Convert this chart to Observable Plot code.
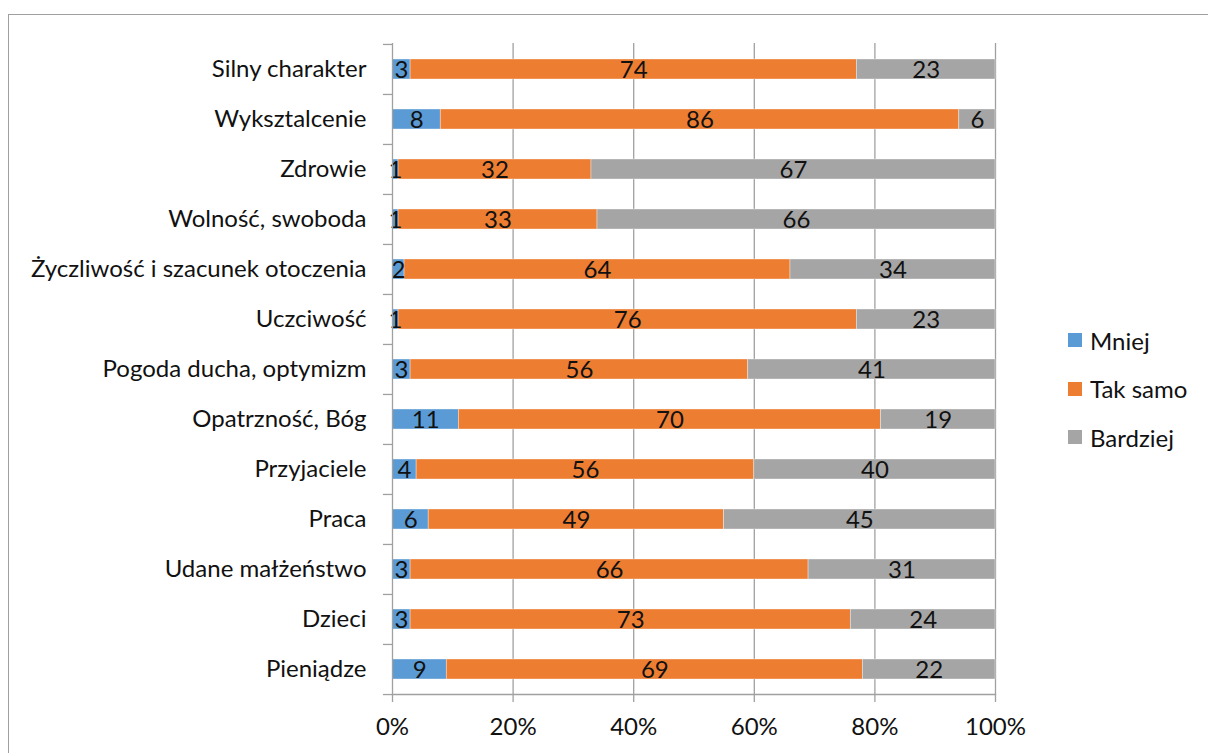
<!DOCTYPE html>
<html>
<head>
<meta charset="utf-8">
<script src="https://cdn.jsdelivr.net/npm/d3@7"></script>
<script src="https://cdn.jsdelivr.net/npm/@observablehq/plot@0.6"></script>
<style>
  html, body { margin: 0; padding: 0; background: #fff; }
  body { width: 1208px; height: 753px; position: relative; overflow: hidden; font-family: Lato, "Open Sans", sans-serif; }
  #border { position: absolute; left: 8px; top: 14px; width: 1300px; height: 900px; border: 1.5px solid #a0a0a0; box-sizing: border-box; }
  #chart { position: absolute; left: 0; top: 0; }
  #legend { position: absolute; left: 1068px; top: 316px; font-size: 24px; color: #111; }
  .li { display: flex; align-items: center; height: 48.5px; }
  .sw { width: 14px; height: 14px; margin-right: 8px; }
</style>
</head>
<body>
<div id="border"></div>
<div id="chart"></div>
<div id="legend"></div>
<script>
const categories = [
  "Silny charakter", "Wyksztalcenie", "Zdrowie", "Wolność, swoboda",
  "Życzliwość i szacunek otoczenia", "Uczciwość", "Pogoda ducha, optymizm",
  "Opatrzność, Bóg", "Przyjaciele", "Praca", "Udane małżeństwo", "Dzieci", "Pieniądze"
];
const series = ["Mniej", "Tak samo", "Bardziej"];
const colors = ["#5B9BD5", "#ED7D31", "#A5A5A5"];
const mniej    = [3, 8, 1, 1, 2, 1, 3, 11, 4, 6, 3, 3, 9];
const takSamo  = [74, 86, 32, 33, 64, 76, 56, 70, 56, 49, 66, 73, 69];
const bardziej = [23, 6, 67, 66, 34, 23, 41, 19, 40, 45, 31, 24, 22];
const xTicks = [0, 20, 40, 60, 80, 100];

const seriesValues = [mniej, takSamo, bardziej];
const data = [];
categories.forEach((c, i) => {
  series.forEach((s, j) => data.push({category: c, series: s, value: seriesValues[j][i]}));
});

const W = 1208, H = 753, mT = 43, mB = 59, mL = 392, mR = 213;
const step = (H - mT - mB) / categories.length;
const FS = 24;

const plot = Plot.plot({
  width: W, height: H,
  marginTop: mT, marginBottom: mB, marginLeft: mL, marginRight: mR,
  style: {fontFamily: "Lato, 'Open Sans', sans-serif", fontSize: FS + "px", color: "#111", background: "transparent"},
  x: {domain: [0, 100]},
  y: {domain: categories, paddingInner: 0.6, paddingOuter: 0.3},
  color: {domain: series, range: colors},
  marks: [
    Plot.ruleX(xTicks.slice(1), {stroke: "#a0a0a0", strokeWidth: 1.3, strokeOpacity: 1}),
    Plot.barX(data, Plot.stackX({
      x: "value", y: "category", fill: "series", order: series,
      stroke: "white", strokeWidth: 0.6, strokeOpacity: 0.6
    })),
    Plot.text(data, Plot.stackX({
      x: "value", y: "category", z: "series", order: series,
      text: d => String(d.value), fill: "#111", fontSize: FS, dy: 1
    })),
    Plot.ruleX([0], {stroke: "#a0a0a0", strokeWidth: 1.3}),
    Plot.frame({anchor: "bottom", stroke: "#a0a0a0", strokeWidth: 1.3}),
    Plot.ruleY(categories, {y: d => d, x1: -1.5, x2: 0, dy: -step / 2, stroke: "#a0a0a0", strokeWidth: 1.3}),
    Plot.ruleY(categories.slice(-1), {y: d => d, x1: -1.5, x2: 0, dy: step / 2, stroke: "#a0a0a0", strokeWidth: 1.3}),
    Plot.axisX({
      ticks: xTicks, tickFormat: d => d + "%", tickSize: 8, tickPadding: 15,
      stroke: "#a0a0a0", strokeWidth: 1.3, label: null, fontSize: FS, fill: "#111"
    }),
    Plot.axisY({
      tickSize: 0, tickPadding: 26, label: null, fontSize: FS, fill: "#111"
    })
  ]
});
document.getElementById("chart").appendChild(plot);

const legend = document.getElementById("legend");
series.forEach((s, i) => {
  const row = document.createElement("div");
  row.className = "li";
  const sw = document.createElement("span");
  sw.className = "sw";
  sw.style.background = colors[i];
  const t = document.createElement("span");
  t.textContent = s;
  row.appendChild(sw); row.appendChild(t);
  legend.appendChild(row);
});
</script>
</body>
</html>
